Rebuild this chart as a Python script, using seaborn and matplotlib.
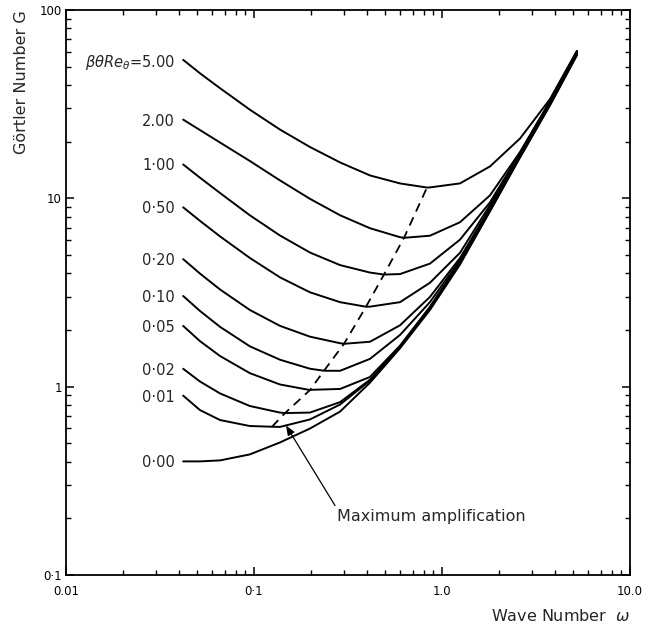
import numpy as np
import pandas as pd
import matplotlib
matplotlib.use("Agg")
import matplotlib.pyplot as plt
import seaborn as sns
from matplotlib.ticker import LogLocator, NullFormatter

# ---------------- data ----------------
omega = [0.042, 0.0516, 0.066, 0.095, 0.1375, 0.1985, 0.287, 0.414,
         0.598, 0.863, 1.246, 1.80, 2.60, 3.75, 5.22]

beta_labels = ["0·00", "0·01", "0·02", "0·05", "0·10", "0·20",
               "0·50", "1·00", "2.00", r"$\beta\theta Re_{\theta}$=5.00"]

G_000 = [0.4011, 0.4011, 0.4060, 0.4368, 0.5056, 0.5995, 0.7375, 1.050, 1.599, 2.555, 4.448, 8.536, 16.48, 31.13, 57.51]
G_001 = [0.8962, 0.7511, 0.6649, 0.6181, 0.6113, 0.6698, 0.8040, 1.077, 1.616, 2.618, 4.530, 8.588, 16.58, 31.32, 57.94]
G_002 = [1.245, 1.065, 0.9205, 0.7894, 0.7285, 0.7285, 0.8280, 1.089, 1.628, 2.637, 4.563, 8.651, 16.70, 31.55, 58.36]
G_005 = [2.102, 1.745, 1.454, 1.180, 1.027, 0.9618, 0.9724, 1.126, 1.652, 2.657, 4.597, 8.715, 16.83, 31.78, 58.79]
G_010 = [3.030, 2.524, 2.077, 1.638, 1.390, 1.245, 1.214, 1.405, 1.882, 2.813, 4.693, 8.832, 17.05, 32.21, 59.37]
G_020 = [4.756, 3.986, 3.280, 2.555, 2.103, 1.843, 1.701, 1.732, 2.118, 2.997, 4.820, 8.908, 17.20, 32.36, 59.66]
G_050 = [8.961, 7.593, 6.278, 4.826, 3.806, 3.170, 2.810, 2.660, 2.810, 3.563, 5.135, 9.216, 17.30, 32.44, 59.95]
G_100 = [15.13, 12.87, 10.67, 8.130, 6.348, 5.154, 4.421, 4.035, 3.962, 4.502, 6.032, 9.525, 17.41, 32.60, 60.10]
G_200 = [26.18, 23.04, 19.78, 15.79, 12.45, 9.939, 8.130, 6.939, 6.218, 6.332, 7.465, 10.37, 17.62, 32.80, 60.31]
G_500 = [54.38, 46.13, 38.43, 29.57, 23.18, 18.73, 15.51, 13.23, 12.00, 11.43, 12.00, 14.77, 20.78, 33.61, 60.68]

# maximum-amplification points (curve minima) for beta = 0.01 ... 5.00
omega_max = [0.1247, 0.1462, 0.1985, 0.2357, 0.3011, 0.3942, 0.4913, 0.6279, 0.8320]
G_max = [0.6128, 0.7241, 0.9594, 1.215, 1.689, 2.657, 3.938, 6.172, 11.41]

# arrow annotation (tip and text anchor)
arrow_tip = (0.148, 0.622)
arrow_text_pos = (0.2764, 0.205)

x_ticks = [0.01, 0.1, 1.0, 10.0]
x_ticklabels = ["0.01", "0·1", "1.0", "10.0"]
y_ticks = [0.1, 1, 10, 100]
y_ticklabels = ["0·1", "1", "10", "100"]

# ---------------- build long table ----------------
curves = [G_000, G_001, G_002, G_005, G_010, G_020, G_050, G_100, G_200, G_500]
rows = []
for i, (lab, G) in enumerate(zip(beta_labels, curves)):
    for w, g in zip(omega, G):
        rows.append((lab, w, g))
    if i > 0:
        rows.append((lab, omega_max[i - 1], G_max[i - 1]))
df = pd.DataFrame(rows, columns=["beta", "omega", "G"])

# ---------------- plot ----------------
sns.set_style("ticks")
plt.rcParams["font.family"] = ["DejaVu Sans"]

fig = plt.figure(figsize=(6.54, 6.28), dpi=100)
ax = fig.add_axes([66 / 654, 1 - 575 / 628, 564 / 654, 565 / 628])

sns.lineplot(data=df, x="omega", y="G", hue="beta",
             palette=["black"] * len(beta_labels), estimator=None,
             sort=True, legend=False, lw=1.4, ax=ax)
sns.lineplot(x=omega_max, y=G_max, color="black", lw=1.3,
             linestyle=(0, (5, 3.5)), estimator=None, sort=False, ax=ax)

ax.set_xscale("log")
ax.set_yscale("log")
ax.set_xlim(0.01, 10)
ax.set_ylim(0.1, 100)

ax.set_xticks(x_ticks)
ax.set_xticklabels(x_ticklabels)
ax.set_yticks(y_ticks)
ax.set_yticklabels(y_ticklabels)
ax.xaxis.set_minor_locator(LogLocator(base=10, subs=np.arange(2, 10)))
ax.yaxis.set_minor_locator(LogLocator(base=10, subs=np.arange(2, 10)))
ax.xaxis.set_minor_formatter(NullFormatter())
ax.yaxis.set_minor_formatter(NullFormatter())
ax.tick_params(which="both", direction="in", top=True, right=True,
               colors="black", labelsize=8.5)
ax.tick_params(which="major", length=6, width=1.1)
ax.tick_params(which="minor", length=3.5, width=1.0)
ax.tick_params(axis="x", pad=7)
ax.tick_params(axis="y", pad=3)
for sp in ax.spines.values():
    sp.set_visible(True)
    sp.set_linewidth(1.3)
    sp.set_color("black")

# curve labels
for lab, G in zip(beta_labels, curves):
    ax.annotate(lab, xy=(omega[0], G[0]), xytext=(-6, 0),
                textcoords="offset points", ha="right", va="center_baseline",
                fontsize=10.5)

# arrow + text
ax.annotate("Maximum amplification", xy=arrow_tip, xytext=arrow_text_pos,
            ha="left", va="center", fontsize=11.5,
            arrowprops=dict(arrowstyle="-|>,head_length=0.5,head_width=0.2",
                            color="black", lw=0.9, shrinkA=0, shrinkB=0,
                            relpos=(0, 1)))

ax.set_xlabel(r"Wave Number  $\omega$", fontsize=11.5, loc="right")
ax.xaxis.set_label_coords(1.0, -0.058)
ax.set_ylabel("Görtler Number G", fontsize=11.5, loc="top")
ax.yaxis.set_label_coords(-0.066, 1.0)

fig.savefig("out.png", dpi=100)
